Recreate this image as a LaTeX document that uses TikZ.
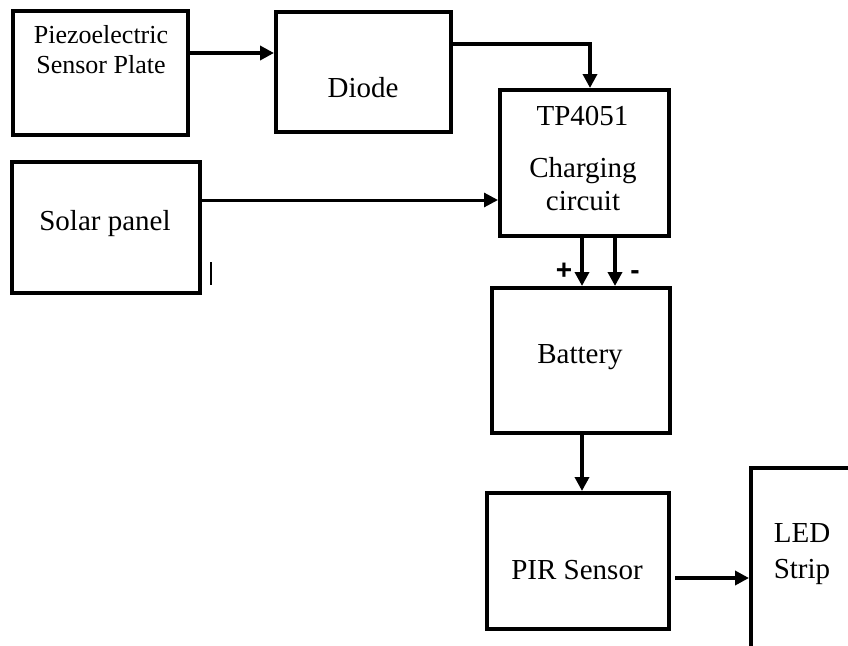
\documentclass[tikz,border=0pt]{standalone}
\usepackage{fontspec}
\setmainfont{Liberation Serif}
\setsansfont{Liberation Sans}
\usetikzlibrary{arrows.meta,positioning}

\begin{document}
\begin{tikzpicture}[x=1pt, y=-1pt,
    block/.style={draw, line width=4pt, inner sep=0pt},
    txt/.style={font=\fontsize{29}{33}\selectfont, inner sep=0pt, anchor=base, align=center},
    sign/.style={font=\sffamily\bfseries\fontsize{28}{33}\selectfont, inner sep=0pt},
    wire/.style={line width=3.5pt, -{Triangle[length=14pt, width=14pt]}}]
% Page
\fill[white] (0,0) rectangle (848,645);
\useasboundingbox (0,0) rectangle (848,645);
\clip (0,0) rectangle (848,645);

% Blocks
\node[block, minimum width=175pt, minimum height=124pt] (piezo) at (100.5,73) {};
\node[block, minimum width=175pt, minimum height=120pt] (diode) at (363.5,72) {};
\node[block, minimum width=169pt, minimum height=146pt] (tp) at (584.5,163) {};
\node[block, minimum width=188pt, minimum height=131pt] (solar) at (106,227.5) {};
\node[block, minimum width=178pt, minimum height=145pt] (battery) at (581,360.5) {};
\node[block, minimum width=182pt, minimum height=136pt] (pir) at (578,561) {};
\node[block, minimum width=200pt, minimum height=250pt] (led) at (851,593) {};

% Block texts (base = last line)
\node[txt, font=\fontsize{26}{30}\selectfont] (piezoText) at (101,73) {Piezoelectric\\Sensor Plate};
\node[txt] (diodeText) at (363,97) {Diode};
\node[txt] (solarText) at (105,230) {Solar panel};
\node[txt] (tpText) at (582.5,125) {TP4051};
\node[txt] (chargeText) at (583,210) {Charging\\circuit};
\node[txt] (batteryText) at (580,363) {Battery};
\node[txt] (pirText) at (577,579) {PIR Sensor};
\node[txt, font=\fontsize{29}{36}\selectfont] (ledText) at (802,578) {LED\\Strip};

% Connectors
\draw[wire] ([yshift=20pt]piezo.east) -- ([yshift=20pt]piezo.east -| diode.west);
\draw[wire] ([yshift=28pt]diode.east) -| ([xshift=5.5pt]tp.north);
\draw[wire, line width=3pt] ([yshift=27.5pt]solar.east) -- ([yshift=27.5pt]solar.east -| tp.west);
\draw[wire] ([xshift=-2.5pt]tp.south) -- ([xshift=-2.5pt]tp.south |- battery.north);
\draw[wire] ([xshift=30.5pt]tp.south) -- ([xshift=30.5pt]tp.south |- battery.north);
\draw[wire] ([xshift=1pt]battery.south) -- ([xshift=1pt]battery.south |- pir.north);
\draw[wire] ([xshift=4pt, yshift=-17pt]pir.east) -- ([yshift=-17pt]pir.east -| led.west);

% Polarity marks
\node[sign] (plus) at (564,271) {+};
\node[sign] (minus) at (635,275) {-};

% Stray cursor mark
\draw[line width=1.2pt] (211,262) -- (211,285);
\end{tikzpicture}
\end{document}
